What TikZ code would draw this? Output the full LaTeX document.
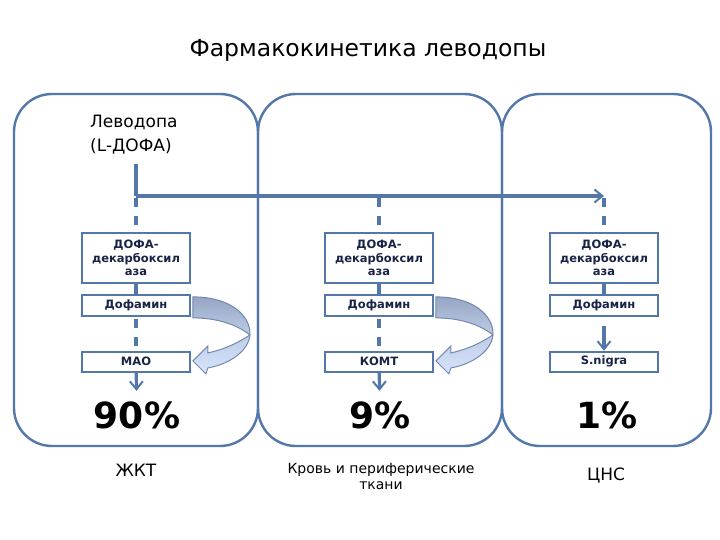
\documentclass[tikz,border=0pt]{standalone}
\usepackage{fontspec}
\setmainfont{DejaVu Sans}
\usepackage{tikz}
\usetikzlibrary{positioning}
\usetikzlibrary{arrows.meta}
\definecolor{zoneblue}{RGB}{84,119,170}
\definecolor{boxtext}{RGB}{25,35,70}
\definecolor{bandtop}{RGB}{150,166,196}
\definecolor{bandmid}{RGB}{190,205,230}
\definecolor{bandbottom}{RGB}{214,228,252}
\definecolor{bandline}{RGB}{115,135,175}

\begin{document}
\begin{tikzpicture}[x=1pt, y=-1pt,
  zone/.style={draw=zoneblue, line width=2.4pt, rounded corners=38pt},
  enzbox/.style={draw=zoneblue, line width=1.8pt, minimum width=108pt, inner sep=0pt, align=center, text=boxtext, font=\bfseries\fontsize{11.5}{13.5}\selectfont},
  flow/.style={draw=zoneblue, line width=3.2pt},
  flowdash/.style={flow, dash pattern=on 9pt off 9pt},
  tip/.style={-{Straight Barb[length=8pt, width=13pt, line width=2pt]}},
  pct/.style={font=\bfseries\fontsize{36}{40}\selectfont},
  organ/.style={font=\fontsize{17}{20}\selectfont, align=center},
  backarrow/.style={draw=bandline, line width=1pt, top color=bandtop, bottom color=bandbottom, middle color=bandmid}]
\useasboundingbox (0,0) rectangle (720,540);

\node[font=\fontsize{23.5}{28}\selectfont] (Title) at (368,50) {Фармакокинетика леводопы};

\draw[zone] (14,94) rectangle (258,446);
\draw[zone] (258,94) rectangle (502,446);
\draw[zone] (502,94) rectangle (711,446);

\node[anchor=west, align=left, font=\fontsize{17}{24}\selectfont, inner sep=0pt] (Levodopa) at (90,135) {Леводопа\\(L-ДОФА)};

% ЖКТ
\node[enzbox, minimum height=50pt] (DecarbGut) at (136,258) {ДОФА-\\декарбоксил\\аза};
\node[enzbox, minimum height=21pt, below=10pt of DecarbGut] (DopGut) {Дофамин};
\node[enzbox, minimum height=20pt, below=34pt of DopGut] (MaoGut) {МАО};
\node[pct] (PctGut) at (137,415) {90\%};
\node[organ] (Gut) at (136,470) {ЖКТ};

% кровь
\node[enzbox, minimum height=50pt] (DecarbBlood) at (379,258) {ДОФА-\\декарбоксил\\аза};
\node[enzbox, minimum height=21pt, below=10pt of DecarbBlood] (DopBlood) {Дофамин};
\node[enzbox, minimum height=20pt, below=34pt of DopBlood] (KomtBlood) {КОМТ};
\node[pct] (PctBlood) at (380,415) {9\%};
\node[organ, font=\fontsize{14}{16}\selectfont] (Blood) at (381,476) {Кровь и периферические\\ткани};

% ЦНС
\node[enzbox, minimum height=50pt] (DecarbBrain) at (604,258) {ДОФА-\\декарбоксил\\аза};
\node[enzbox, minimum height=21pt, below=10pt of DecarbBrain] (DopBrain) {Дофамин};
\node[enzbox, minimum height=20pt, below=34pt of DopBrain] (SnBrain) {S.nigra};
\node[pct] (PctBrain) at (607,415) {1\%};
\node[organ] (Brain) at (606,476) {ЦНС};

\coordinate (Split) at (DecarbGut.north |- 0,196);
\draw[flow] (Levodopa.south -| Split) ++(0,-9pt) -- (Split);
\draw[flow, tip] (Split) -- (Split -| DecarbBrain.north);
\draw[flowdash, dash phase=-2pt] (Split) -- (DecarbGut.north);
\draw[flowdash, dash phase=-2pt] (Split -| DecarbBlood.north) -- (DecarbBlood.north);
\draw[flowdash, dash phase=-2pt] (Split -| DecarbBrain.north) -- (DecarbBrain.north);

\draw[flow] (DecarbGut) -- (DopGut);
\draw[flow] (DecarbBlood) -- (DopBlood);
\draw[flow] (DecarbBrain) -- (DopBrain);

\draw[flowdash, dash phase=-2pt] (DopGut) -- (MaoGut);
\draw[flowdash, dash phase=-2pt] (DopBlood) -- (KomtBlood);
\draw[flow, tip, shorten <=9pt] (DopBrain) -- (SnBrain);

\draw[flow, tip, shorten >=7pt] (MaoGut) -- (PctGut);
\draw[flow, tip, shorten >=7pt] (KomtBlood) -- (PctBlood);

\begin{scope}[shift={(DopGut.north east)}]
\path[backarrow] (2,3) .. controls (40,3) and (60,22) .. (59,41) .. controls (58,56) and (40,70) .. (17,74) -- (15,80) -- (2,67) -- (17,52) -- (17,59) .. controls (36,55) and (50,47) .. (59,41) .. controls (45,30) and (25,24) .. (2,24) -- cycle;
\end{scope}
\begin{scope}[shift={(DopBlood.north east)}]
\path[backarrow] (2,3) .. controls (40,3) and (60,22) .. (59,41) .. controls (58,56) and (40,70) .. (17,74) -- (15,80) -- (2,67) -- (17,52) -- (17,59) .. controls (36,55) and (50,47) .. (59,41) .. controls (45,30) and (25,24) .. (2,24) -- cycle;
\end{scope}
\end{tikzpicture}
\end{document}
